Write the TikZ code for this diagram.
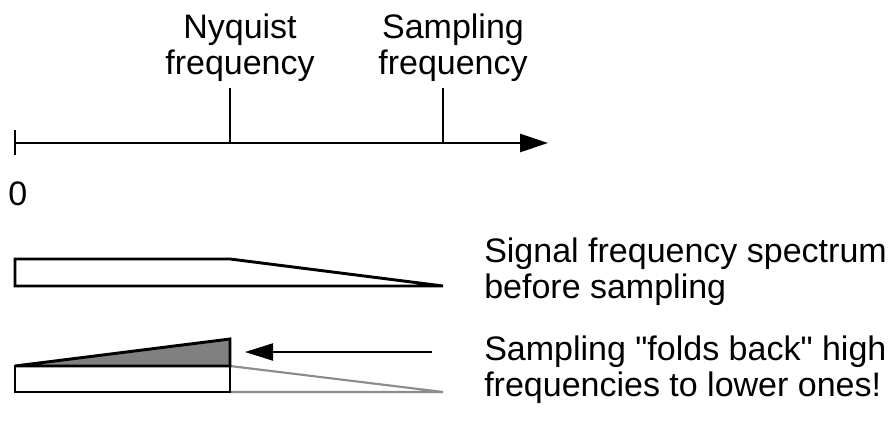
\documentclass[tikz,border=0pt]{standalone}
\usepackage{fontspec}
\setmainfont{Liberation Sans}
\usetikzlibrary{arrows.meta}

\begin{document}
\begin{tikzpicture}[
    x=0.75pt, y=-0.75pt,
    lbl/.style={font=\fontsize{25.5}{27}\selectfont, align=left, inner sep=0pt},
    axisline/.style={line width=2pt, draw=black},
    band/.style={line width=2.2pt, draw=black, line join=miter},
    ghost/.style={line width=1.6pt, draw=black!45},
    foldarr/.style={-{Triangle[length=28*0.75pt, width=17*0.75pt]}, line width=1.6pt}
  ]
    \useasboundingbox (0,0) rectangle (889,425);
    % frequency axis
    \coordinate (orig) at (15,143);
    \coordinate (nyq) at (230,143);
    \coordinate (fs) at (443,143);
    \coordinate (axend) at (548,143);
    \draw[axisline, -{Triangle[length=28*0.75pt, width=18*0.75pt]}] (orig) -- (axend);
    \draw[axisline] (15,130) -- (15,155);
    \draw[axisline] (nyq) -- ++(0,-55) coordinate (nyqtop);
    \draw[axisline] (fs) -- ++(0,-55) coordinate (fstop);
    \node[lbl, align=center, anchor=south] (nyqlbl) at ([xshift=10*0.75pt, yshift=6*0.75pt]nyqtop) {Nyquist\\frequency};
    \node[lbl, align=center, anchor=south] (fslbl) at ([xshift=10*0.75pt, yshift=6*0.75pt]fstop) {Sampling\\frequency};
    \node[lbl, anchor=north west] (zero) at (8,181) {0};

    % spectrum before sampling
    \draw[band] (15,259) -- (230,259) -- (443,286) -- (15,286) -- cycle;
    \node[lbl, anchor=west] (before) at (484,272) {Signal frequency spectrum\\before sampling};

    % spectrum after sampling
    \draw[ghost] (230,366) -- (443,392) -- (230,392);
    \draw[band, fill=black!50] (15,366) -- (230,339) -- (230,366) -- cycle;
    \draw[band] (15,366) rectangle (230,392);
    \coordinate (fromhi) at (432,352);
    \coordinate (tolow) at (245,352);
    \draw[foldarr] (fromhi) -- (tolow);
    \node[lbl, anchor=west] (after) at (484,370) {Sampling \textquotedbl folds back\textquotedbl{} high\\frequencies to lower ones!};
  \end{tikzpicture}
\end{document}
